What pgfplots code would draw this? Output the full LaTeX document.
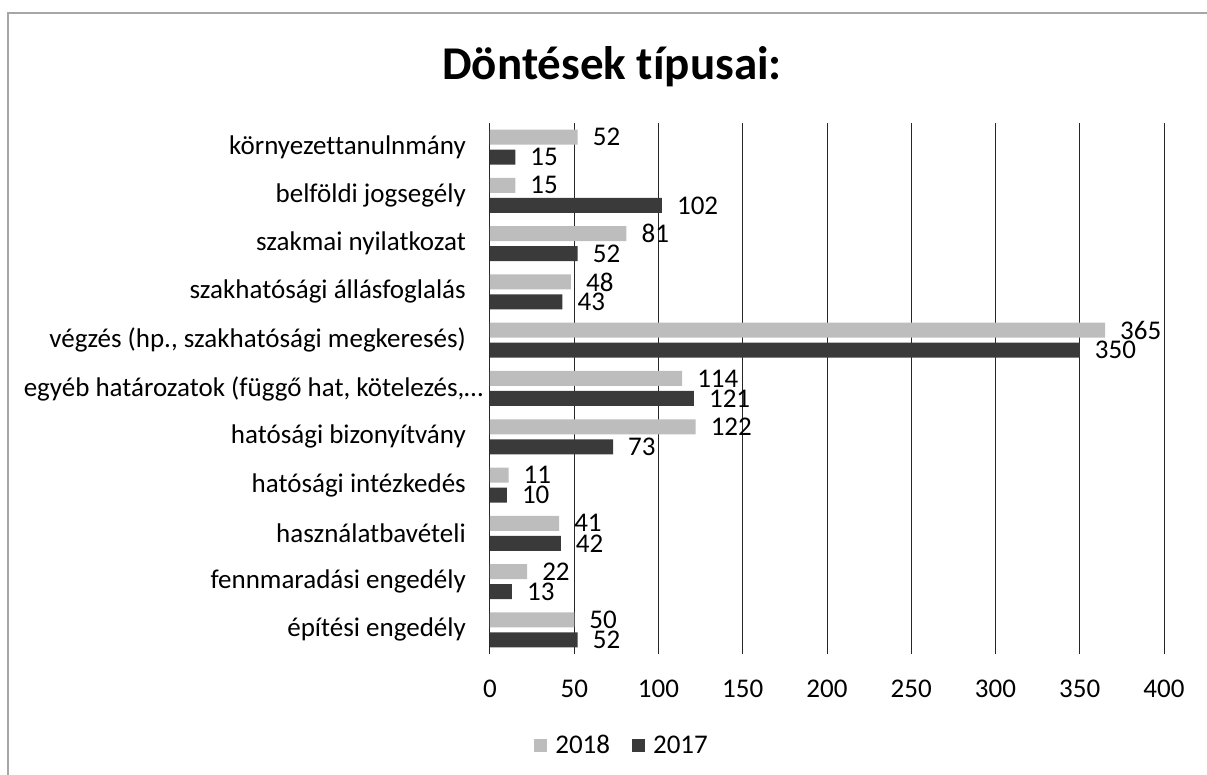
\documentclass[border=0pt]{standalone}
\usepackage{pgfplots}
\pgfplotsset{compat=1.18}
\usepackage{fontspec}
\setmainfont[Ligatures={NoCommon}]{Carlito}
\definecolor{c2018}{HTML}{BDBDBD}
\definecolor{c2017}{HTML}{3A3A3A}
\begin{document}
\begin{tikzpicture}[x=1pt,y=1pt]
\useasboundingbox (0,0) rectangle (1207,775);
\draw[gray!70, line width=1.5pt] (8,0) -- (8,762) -- (1207,762);
\node[anchor=base, font=\fontsize{47}{56}\selectfont\bfseries] at (612,695) {Döntések típusai:};
\begin{axis}[
  at={(490pt,121pt)}, anchor=south west,
  width=674pt, height=531pt, scale only axis,
  xbar, bar width=15pt,
  xmin=0, xmax=400,
  ymin=-0.5, ymax=10.5,
  xtick={0,50,...,400},
  ytick={0,...,10},
  yticklabels={építési engedély, fennmaradási engedély, használatbavételi, hatósági intézkedés, hatósági bizonyítvány, {\makebox[442pt][l]{egyéb határozatok (függő hat, kötelezés,…}}, {végzés (hp., szakhatósági megkeresés)}, szakhatósági állásfoglalás, szakmai nyilatkozat, belföldi jogsegély, környezettanulnmány},
  axis line style={draw=none},
  major tick length=0pt,
  xmajorgrids, grid style={black!85, line width=1pt},
  /pgf/number format/assume math mode=true,
  tick label style={font=\fontsize{27}{32}\selectfont},
  yticklabel style={anchor=east, inner sep=0pt, xshift=-24pt},
  xticklabel style={anchor=north, inner sep=0pt, yshift=-26pt},
  nodes near coords,
  nodes near coords style={anchor=west, inner sep=0pt, xshift=15pt, font=\fontsize{27}{32}\selectfont, black},
  clip=false,
  legend columns=2,
  legend style={draw=none, at={(0.196,-0.172)}, anchor=center, font=\fontsize{27}{32}\selectfont,
    /tikz/every odd column/.append style={column sep=6pt},
    /tikz/every even column/.append style={column sep=20pt}},
]
\addplot[fill=c2018, draw=none, bar shift=10pt,
  legend image code/.code={\fill[c2018] (0pt,-6.5pt) rectangle (13pt,6.5pt);}]
  coordinates {(50,0) (22,1) (41,2) (11,3) (122,4) (114,5) (365,6) (48,7) (81,8) (15,9) (52,10)};
\addplot[fill=c2017, draw=none, bar shift=-10pt,
  legend image code/.code={\fill[c2017] (0pt,-6.5pt) rectangle (13pt,6.5pt);}]
  coordinates {(52,0) (13,1) (42,2) (10,3) (73,4) (121,5) (350,6) (43,7) (52,8) (102,9) (15,10)};
\legend{2018, 2017}
\end{axis}
\end{tikzpicture}
\end{document}
